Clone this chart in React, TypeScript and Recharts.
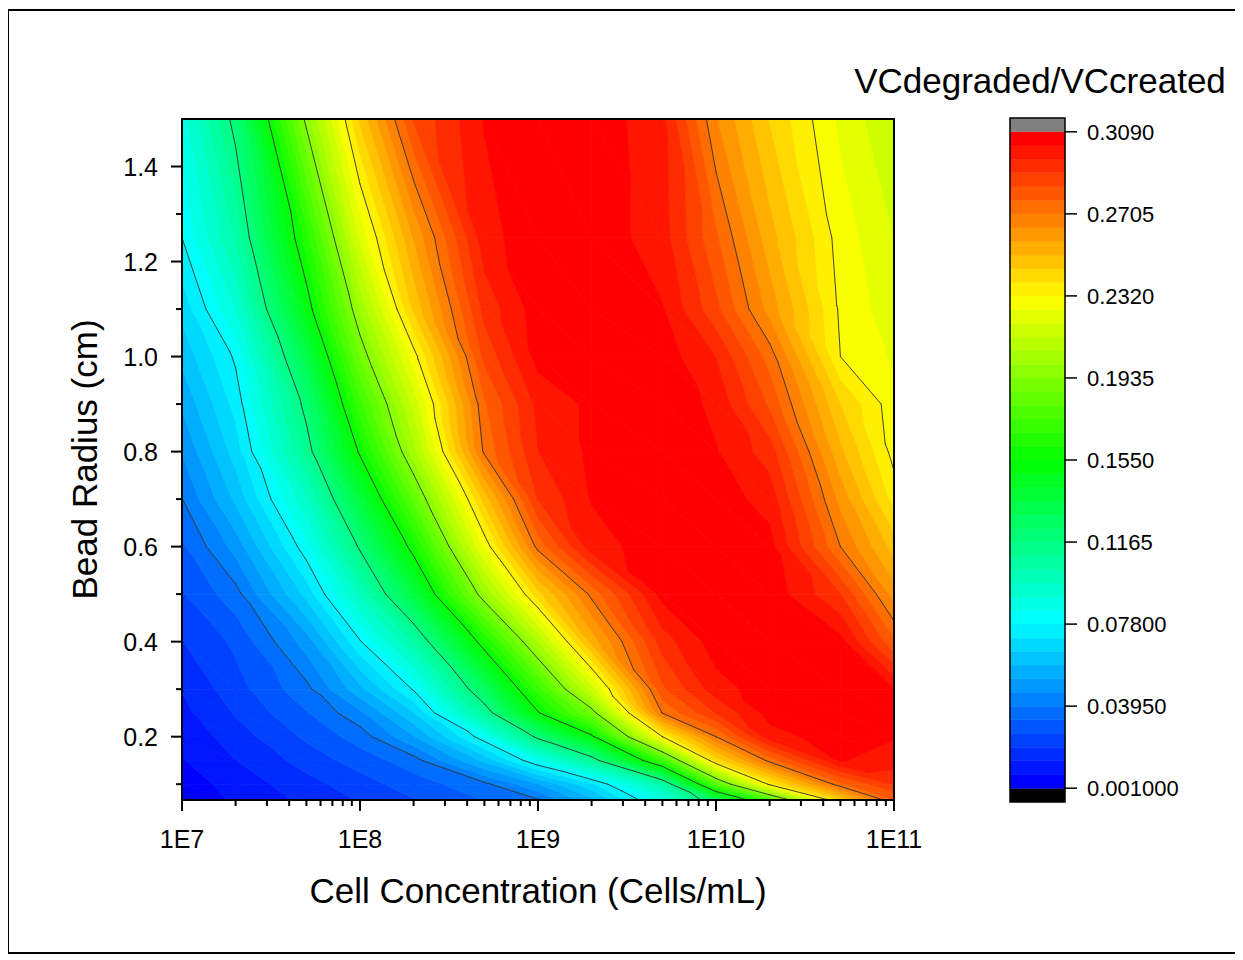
import { ComposedChart, Scatter, XAxis, YAxis, ReferenceArea } from "recharts"

// cell concentration (cells/mL) grid columns
const concentration = [1e7, 2e7, 5e7, 1e8, 2e8, 5e8, 1e9, 2e9, 5e9, 1e10, 2e10, 5e10, 1e11]
// bead radius (cm) grid rows
const radius = [0.0667, 0.1, 0.15, 0.2, 0.25, 0.3, 0.4, 0.5, 0.6, 0.7, 0.8, 0.9, 1.0, 1.1, 1.25, 1.5]

// VCdegraded/VCcreated, one row per radius (bottom to top), one value per concentration
const rowR0667 = [0.003, 0.0084, 0.0155, 0.0209, 0.0263, 0.0334, 0.0388, 0.0571, 0.0884, 0.1278, 0.1736, 0.2434, 0.277]
const rowR010 = [0.004, 0.010, 0.0179, 0.0239, 0.0299, 0.0378, 0.0522, 0.0702, 0.1044, 0.1785, 0.234, 0.275, 0.29]
const rowR015 = [0.007, 0.0138, 0.0229, 0.0297, 0.0366, 0.0606, 0.0846, 0.110, 0.1721, 0.2403, 0.273, 0.303, 0.300]
const rowR020 = [0.009, 0.0171, 0.0279, 0.036, 0.0519, 0.0823, 0.1195, 0.1524, 0.232, 0.2705, 0.300, 0.306, 0.303]
const rowR025 = [0.012, 0.0209, 0.0327, 0.0443, 0.0646, 0.1099, 0.154, 0.1885, 0.271, 0.290, 0.305, 0.306, 0.303]
const rowR030 = [0.014, 0.0241, 0.0375, 0.0569, 0.0788, 0.1272, 0.1708, 0.2153, 0.282, 0.300, 0.306, 0.307, 0.303]
const rowR040 = [0.020, 0.028, 0.049, 0.0773, 0.1048, 0.1609, 0.2062, 0.2536, 0.293, 0.306, 0.307, 0.305, 0.278]
const rowR050 = [0.026, 0.037, 0.0674, 0.0988, 0.1358, 0.1996, 0.2425, 0.2725, 0.305, 0.307, 0.307, 0.290, 0.2609]
const rowR060 = [0.032, 0.0485, 0.0823, 0.1182, 0.1596, 0.2271, 0.273, 0.300, 0.306, 0.307, 0.305, 0.2705, 0.2483]
const rowR070 = [0.0393, 0.0602, 0.0959, 0.1367, 0.1823, 0.2473, 0.290, 0.303, 0.307, 0.306, 0.300, 0.2618, 0.2358]
const rowR080 = [0.0463, 0.068, 0.1117, 0.1568, 0.2038, 0.272, 0.296, 0.304, 0.307, 0.303, 0.293, 0.2526, 0.2295]
const rowR090 = [0.0535, 0.0737, 0.120, 0.1719, 0.2148, 0.276, 0.298, 0.304, 0.307, 0.301, 0.282, 0.2447, 0.228]
const rowR100 = [0.0605, 0.0793, 0.1332, 0.1874, 0.2289, 0.285, 0.305, 0.307, 0.306, 0.296, 0.274, 0.232, 0.2245]
const rowR110 = [0.0675, 0.091, 0.1495, 0.2009, 0.246, 0.292, 0.306, 0.307, 0.303, 0.285, 0.2614, 0.2308, 0.2215]
const rowR125 = [0.078, 0.1048, 0.1649, 0.2204, 0.258, 0.300, 0.307, 0.307, 0.299, 0.278, 0.2538, 0.229, 0.219]
const rowR150 = [0.088, 0.120, 0.196, 0.246, 0.284, 0.303, 0.307, 0.307, 0.298, 0.2645, 0.2442, 0.224, 0.213]

const ratio = [
  rowR0667, rowR010, rowR015, rowR020, rowR025, rowR030, rowR040, rowR050,
  rowR060, rowR070, rowR080, rowR090, rowR100, rowR110, rowR125, rowR150,
]

// ticks
const xMajorTicks = [1e7, 1e8, 1e9, 1e10, 1e11]
const xTickLabels = ["1E7", "1E8", "1E9", "1E10", "1E11"]
const xMinorSteps = [2, 3, 4, 5, 6, 7, 8, 9]
const yMajorTicks = [0.2, 0.4, 0.6, 0.8, 1.0, 1.2, 1.4]
const yTickLabels = ["0.2", "0.4", "0.6", "0.8", "1.0", "1.2", "1.4"]
const yMinorTicks = [0.1, 0.3, 0.5, 0.7, 0.9, 1.1, 1.3]

// colour scale
const LEVEL_MIN = 0.001
const LEVEL_MAX = 0.309
const BANDS = 48
const STEP = (LEVEL_MAX - LEVEL_MIN) / BANDS
const scaleTicks = [0.001, 0.0395, 0.078, 0.1165, 0.155, 0.1935, 0.232, 0.2705, 0.309]
const scaleLabels = ["0.001000", "0.03950", "0.07800", "0.1165", "0.1550", "0.1935", "0.2320", "0.2705", "0.3090"]
const lineLevels = [0.0395, 0.078, 0.1165, 0.155, 0.1935, 0.232, 0.2705]

const FONT = '"Liberation Sans", Arial, sans-serif'

const xTicks = [
  ...xMajorTicks,
  ...xMajorTicks.slice(0, -1).flatMap((d) => xMinorSteps.map((m) => d * m)),
].sort((a, b) => a - b)
const yTicks = [...yMajorTicks, ...yMinorTicks].sort((a, b) => a - b)

const rainbow = (t: number) => {
  const s = Math.max(0, Math.min(1, t)) * 4
  let r = 0, g = 0, b = 0
  if (s < 1) { g = 255 * s; b = 255 }
  else if (s < 2) { g = 255; b = 255 * (2 - s) }
  else if (s < 3) { r = 255 * (s - 2); g = 255 }
  else { r = 255; g = 255 * (4 - s) }
  return `rgb(${Math.round(r)},${Math.round(g)},${Math.round(b)})`
}
const bandColor = (k: number) => rainbow(k / (BANDS - 1))

type Pt = { x: number; y: number; v: number }

// keep the part of a polygon on one side of a level (values are linear inside a triangle)
const cut = (poly: Pt[], level: number, above: boolean) => {
  const out: Pt[] = []
  for (let i = 0; i < poly.length; i++) {
    const a = poly[i]
    const b = poly[(i + 1) % poly.length]
    const ina = above ? a.v >= level : a.v <= level
    const inb = above ? b.v >= level : b.v <= level
    if (ina) out.push(a)
    if (ina !== inb) {
      const t = (level - a.v) / (b.v - a.v)
      out.push({ x: a.x + t * (b.x - a.x), y: a.y + t * (b.y - a.y), v: level })
    }
  }
  return out
}

const toPath = (pts: Pt[]) => "M" + pts.map((p) => `${p.x.toFixed(2)},${p.y.toFixed(2)}`).join("L") + "Z"

const triangles = (i: number, j: number, p: any): Pt[][] => {
  const { x, y, width: w, height: h } = p
  const bl = { x, y: y + h, v: ratio[i][j] }
  const br = { x: x + w, y: y + h, v: ratio[i][j + 1] }
  const tr = { x: x + w, y, v: ratio[i + 1][j + 1] }
  const tl = { x, y, v: ratio[i + 1][j] }
  return [[tl, bl, br], [tl, br, tr]]
}

const fillShape = (i: number, j: number) => (p: any) => {
  const out: any[] = []
  triangles(i, j, p).forEach((tri, ti) => {
    const vs = tri.map((q) => q.v)
    const k0 = Math.max(0, Math.floor((Math.min(...vs) - LEVEL_MIN) / STEP))
    const k1 = Math.min(BANDS - 1, Math.floor((Math.max(...vs) - LEVEL_MIN) / STEP))
    for (let k = k0; k <= k1; k++) {
      const lo = LEVEL_MIN + k * STEP
      const poly = cut(cut(tri, lo, true), lo + STEP, false)
      if (poly.length < 3) continue
      const c = bandColor(k)
      out.push(<path key={`${ti}-${k}`} d={toPath(poly)} fill={c} stroke={c} strokeWidth={0.8} strokeLinejoin="round" />)
    }
  })
  return <g>{out}</g>
}

const lineShape = (i: number, j: number) => (p: any) => {
  const segs: any[] = []
  triangles(i, j, p).forEach((tri, ti) => {
    lineLevels.forEach((L, li) => {
      const pts: { x: number; y: number }[] = []
      for (let e = 0; e < 3; e++) {
        const a = tri[e]
        const b = tri[(e + 1) % 3]
        if ((a.v >= L) !== (b.v >= L)) {
          const t = (L - a.v) / (b.v - a.v)
          pts.push({ x: a.x + t * (b.x - a.x), y: a.y + t * (b.y - a.y) })
        }
      }
      if (pts.length === 2) {
        segs.push(
          <line key={`${ti}-${li}`} x1={pts[0].x} y1={pts[0].y} x2={pts[1].x} y2={pts[1].y} stroke="#303030" strokeWidth={0.9} strokeLinecap="round" />
        )
      }
    })
  })
  return <g>{segs}</g>
}

const frameShape = (w: number) => (p: any) => (
  <rect x={p.x} y={p.y} width={p.width} height={p.height} fill="none" stroke="#000" strokeWidth={w} />
)

const XTick = ({ x, y, payload }: any) => {
  const idx = xMajorTicks.findIndex((t) => Math.abs(t / payload.value - 1) < 1e-6)
  const major = idx >= 0
  return (
    <g>
      <line x1={x} x2={x} y1={y} y2={y + (major ? 11 : 6)} stroke="#000" strokeWidth={2} />
      {major && (
        <text x={x} y={y + 48} textAnchor="middle" fontSize={25} fontFamily={FONT} fill="#000">
          {xTickLabels[idx]}
        </text>
      )}
    </g>
  )
}

const YTick = ({ x, y, payload }: any) => {
  const idx = yMajorTicks.findIndex((t) => Math.abs(t - payload.value) < 1e-6)
  const major = idx >= 0
  return (
    <g>
      <line x1={x} x2={x - (major ? 11 : 6)} y1={y} y2={y} stroke="#000" strokeWidth={2} />
      {major && (
        <text x={x - 24} y={y + 9} textAnchor="end" fontSize={25} fontFamily={FONT} fill="#000">
          {yTickLabels[idx]}
        </text>
      )}
    </g>
  )
}

const ScaleTick = ({ x, y, payload }: any) => {
  let idx = 0
  scaleTicks.forEach((t, k) => {
    if (Math.abs(t - payload.value) < Math.abs(scaleTicks[idx] - payload.value)) idx = k
  })
  return (
    <g>
      <line x1={x} x2={x + 12} y1={y} y2={y} stroke="#000" strokeWidth={1.5} />
      <text x={x + 22} y={y + 8} fontSize={22} fontFamily={FONT} fill="#000">
        {scaleLabels[idx]}
      </text>
    </g>
  )
}

const nodes = radius.flatMap((r) => concentration.map((c) => ({ c, r })))
const cells: { i: number; j: number }[] = []
for (let i = 0; i < radius.length - 1; i++) {
  for (let j = 0; j < concentration.length - 1; j++) cells.push({ i, j })
}

const bandEdges = Array.from({ length: BANDS }, (_, k) => ({
  k,
  lo: LEVEL_MIN + k * STEP,
  hi: LEVEL_MIN + (k + 1) * STEP,
}))
const SCALE_LOW = LEVEL_MIN - STEP * 1.01
const SCALE_HIGH = LEVEL_MAX + STEP * 1.01

const emptyShape = () => <g />

export default function App() {
  return (
    <div style={{ position: "relative", width: 1243, height: 960, fontFamily: FONT }}>
      <div
        style={{
          position: "absolute",
          left: -1,
          top: 1,
          width: 1230,
          height: 945,
          border: "2px solid #000",
          boxSizing: "border-box",
        }}
      />
      <div style={{ position: "absolute", left: -8, top: -8 }}>
        <ComposedChart width={1243} height={960} data={nodes} margin={{ top: 119, right: 349, bottom: 100, left: 102 }}>
          <XAxis
            dataKey="c"
            type="number"
            scale="log"
            domain={[1e7, 1e11]}
            allowDataOverflow
            ticks={xTicks}
            interval={0}
            height={60}
            axisLine={false}
            tickLine={false}
            tickSize={0}
            tickMargin={0}
            tick={(p: any) => <XTick {...p} />}
          />
          <YAxis
            dataKey="r"
            type="number"
            domain={[0.0667, 1.5]}
            allowDataOverflow
            ticks={yTicks}
            interval={0}
            width={80}
            axisLine={false}
            tickLine={false}
            tickSize={0}
            tickMargin={0}
            tick={(p: any) => <YTick {...p} />}
          />
          {cells.map(({ i, j }) => (
            <ReferenceArea
              key={`f${i}-${j}`}
              x1={concentration[j]}
              x2={concentration[j + 1]}
              y1={radius[i]}
              y2={radius[i + 1]}
              ifOverflow="visible"
              shape={fillShape(i, j)}
            />
          ))}
          {cells.map(({ i, j }) => (
            <ReferenceArea
              key={`l${i}-${j}`}
              x1={concentration[j]}
              x2={concentration[j + 1]}
              y1={radius[i]}
              y2={radius[i + 1]}
              ifOverflow="visible"
              shape={lineShape(i, j)}
            />
          ))}
          <ReferenceArea x1={1e7} x2={1e11} y1={0.0667} y2={1.5} ifOverflow="visible" shape={frameShape(2)} />
          <Scatter dataKey="r" isAnimationActive={false} shape={emptyShape} />
        </ComposedChart>
      </div>
      <div style={{ position: "absolute", left: -8, top: -8 }}>
        <ComposedChart
          width={1243}
          height={960}
          data={[{ x: 0.5, y: 0.155 }]}
          margin={{ top: 118, right: 8, bottom: 158, left: 1010 }}
        >
          <XAxis dataKey="x" type="number" domain={[0, 1]} hide />
          <YAxis
            dataKey="y"
            type="number"
            orientation="right"
            domain={[SCALE_LOW, SCALE_HIGH]}
            allowDataOverflow
            ticks={scaleTicks}
            interval={0}
            width={170}
            axisLine={false}
            tickLine={false}
            tickSize={0}
            tickMargin={0}
            tick={(p: any) => <ScaleTick {...p} />}
          />
          <ReferenceArea y1={SCALE_LOW} y2={LEVEL_MIN} ifOverflow="visible" fill="#000" fillOpacity={1} stroke="none" />
          {bandEdges.map((b) => (
            <ReferenceArea
              key={b.k}
              y1={b.lo}
              y2={b.hi}
              ifOverflow="visible"
              fill={bandColor(b.k)}
              fillOpacity={1}
              stroke={bandColor(b.k)}
              strokeWidth={0.6}
            />
          ))}
          <ReferenceArea y1={LEVEL_MAX} y2={SCALE_HIGH} ifOverflow="visible" fill="#808080" fillOpacity={1} stroke="none" />
          <ReferenceArea y1={SCALE_LOW} y2={SCALE_HIGH} ifOverflow="visible" shape={frameShape(1.5)} />
          <Scatter dataKey="y" isAnimationActive={false} shape={emptyShape} />
        </ComposedChart>
      </div>
      <div
        style={{
          position: "absolute",
          left: 832,
          top: 55,
          width: 400,
          textAlign: "center",
          fontSize: 35,
          lineHeight: "35px",
          whiteSpace: "nowrap",
        }}
      >
        VCdegraded/VCcreated
      </div>
      <div
        style={{
          position: "absolute",
          left: 230,
          top: 865,
          width: 600,
          textAlign: "center",
          fontSize: 35,
          lineHeight: "35px",
          whiteSpace: "nowrap",
        }}
      >
        Cell Concentration (Cells/mL)
      </div>
      <div
        style={{
          position: "absolute",
          left: 84 - 200 - 8,
          top: 459.5 - 17.5 - 8,
          width: 400,
          height: 35,
          textAlign: "center",
          fontSize: 35,
          lineHeight: "35px",
          whiteSpace: "nowrap",
          transform: "rotate(-90deg)",
        }}
      >
        Bead Radius (cm)
      </div>
    </div>
  )
}
